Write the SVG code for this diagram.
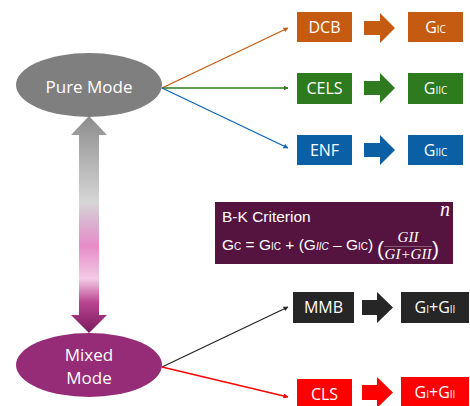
<svg xmlns="http://www.w3.org/2000/svg" width="470" height="406" viewBox="0 0 470 406">
<defs>
<style>
.lbl{font-family:"Open Sans","Noto Sans",sans-serif;fill:#fff;text-anchor:middle}
.b{font-size:16px}
.s{font-size:10px}
.bk{font-family:"Liberation Sans",Arial,sans-serif;fill:#fff}
.m{font-family:"Liberation Serif","Times New Roman",serif;font-style:italic;fill:#fff}
.conn{fill:none;stroke-width:1.3}
</style>
<linearGradient id="gshaft" x1="0" y1="116" x2="0" y2="333" gradientUnits="userSpaceOnUse">
<stop offset="0" stop-color="#8c8c8c"/>
<stop offset="0.15" stop-color="#a8a8a8"/>
<stop offset="0.4" stop-color="#d6d6d6"/>
<stop offset="0.5" stop-color="#dcaed0"/>
<stop offset="0.6" stop-color="#e68cc6"/>
<stop offset="0.75" stop-color="#f4cae6"/>
<stop offset="0.86" stop-color="#b8448e"/>
<stop offset="1" stop-color="#7a1a60"/>
</linearGradient>
<marker id="ao" viewBox="0 0 10 10" refX="9" refY="5" markerWidth="5" markerHeight="5" orient="auto" markerUnits="userSpaceOnUse"><path d="M0,0L10,5L0,10z" fill="#c55a11"/></marker>
<marker id="ag" viewBox="0 0 10 10" refX="9" refY="5" markerWidth="5" markerHeight="5" orient="auto" markerUnits="userSpaceOnUse"><path d="M0,0L10,5L0,10z" fill="#2e7a1e"/></marker>
<marker id="ab" viewBox="0 0 10 10" refX="9" refY="5" markerWidth="5" markerHeight="5" orient="auto" markerUnits="userSpaceOnUse"><path d="M0,0L10,5L0,10z" fill="#0b66b4"/></marker>
<marker id="ak" viewBox="0 0 10 10" refX="9" refY="5" markerWidth="5" markerHeight="5" orient="auto" markerUnits="userSpaceOnUse"><path d="M0,0L10,5L0,10z" fill="#262626"/></marker>
<marker id="ar" viewBox="0 0 10 10" refX="9" refY="5" markerWidth="5" markerHeight="5" orient="auto" markerUnits="userSpaceOnUse"><path d="M0,0L10,5L0,10z" fill="#ff0000"/></marker>
</defs>
<rect width="470" height="406" fill="#fff"/>

<g id="connectors">
<line class="conn" x1="162" y1="88" x2="288" y2="28" stroke="#c55a11" marker-end="url(#ao)"/>
<line class="conn" x1="162" y1="88" x2="288" y2="88" stroke="#2e7a1e" marker-end="url(#ag)"/>
<line class="conn" x1="162" y1="88" x2="288" y2="148" stroke="#0b66b4" marker-end="url(#ab)"/>
<line class="conn" x1="162" y1="367" x2="288" y2="307" stroke="#262626" marker-end="url(#ak)"/>
<line class="conn" x1="162" y1="367" x2="288" y2="397" stroke="#ff0000" marker-end="url(#ar)"/>
<polygon points="89,116 107,135 99,135 99,315 107,315 89,333 71,315 79,315 79,135 71,135" fill="url(#gshaft)"/>
</g>

<g id="pure-mode">
<ellipse cx="89" cy="85" rx="73" ry="32" fill="#7f7f7f"/>
<text class="lbl" x="89" y="93" font-size="17">Pure Mode</text>
</g>

<g id="mixed-mode">
<ellipse cx="89" cy="365" rx="73" ry="32" fill="#962c78"/>
<text class="lbl" x="89" y="361" font-size="17">Mixed</text>
<text class="lbl" x="89" y="384" font-size="17">Mode</text>
</g>

<g id="dcb">
<rect x="297" y="12" width="55" height="30" fill="#c55a11"/>
<text class="lbl b" x="324.5" y="33">DCB</text>
</g>
<g id="dcb-arrow"><polygon points="364,21 380,21 380,13 395,28 380,43 380,35 364,35" fill="#c55a11"/></g>
<g id="dcb-gic">
<rect x="408" y="12" width="55" height="30" fill="#c55a11"/>
<text class="lbl" x="435.5" y="33"><tspan class="b">G</tspan><tspan class="s">IC</tspan></text>
</g>

<g id="cels">
<rect x="297" y="73" width="55" height="31" fill="#2e7a1e"/>
<text class="lbl b" x="324.5" y="94">CELS</text>
</g>
<g id="cels-arrow"><polygon points="364,81 380,81 380,73 395,88 380,103 380,95 364,95" fill="#2e7a1e"/></g>
<g id="cels-giic">
<rect x="408" y="73" width="55" height="31" fill="#2e7a1e"/>
<text class="lbl" x="435.5" y="94"><tspan class="b">G</tspan><tspan class="s">IIC</tspan></text>
</g>

<g id="enf">
<rect x="297" y="135" width="55" height="30" fill="#0b5fa5"/>
<text class="lbl b" x="324.5" y="156">ENF</text>
</g>
<g id="enf-arrow"><polygon points="364,143 380,143 380,135 395,150 380,165 380,157 364,157" fill="#0b5fa5"/></g>
<g id="enf-giic">
<rect x="408" y="135" width="55" height="30" fill="#0b5fa5"/>
<text class="lbl" x="435.5" y="156"><tspan class="b">G</tspan><tspan class="s">IIC</tspan></text>
</g>

<g id="bk-criterion">
<rect x="215" y="202" width="238" height="62" fill="#54143f"/>
<text class="bk" x="222" y="222" font-size="15.5">B-K Criterion</text>
<text class="bk" x="222" y="250" font-size="15.5">G<tspan font-size="10">C</tspan> = G<tspan font-size="10">IC</tspan> + (G<tspan font-size="10" font-style="italic">IIC</tspan> – G<tspan font-size="10">IC</tspan>)</text>
<text class="bk" x="377" y="256" font-size="21">(</text>
<text class="m" x="408" y="242" font-size="15" text-anchor="middle">GII</text>
<line x1="384" y1="246.5" x2="432" y2="246.5" stroke="#fff" stroke-width="0.6" stroke-opacity="0.5"/>
<text class="m" x="408" y="259" font-size="15" text-anchor="middle">GI+GII</text>
<text class="bk" x="432" y="256" font-size="21">)</text>
<text class="m" x="440" y="216" font-size="20">n</text>
</g>

<g id="mmb">
<rect x="293" y="292" width="61" height="31" fill="#262626"/>
<text class="lbl b" x="323.5" y="313">MMB</text>
</g>
<g id="mmb-arrow"><polygon points="362,300 377,300 377,292 393,307.5 377,323 377,315 362,315" fill="#262626"/></g>
<g id="mmb-g">
<rect x="401" y="292" width="68" height="31" fill="#262626"/>
<text class="lbl" x="435" y="313"><tspan class="b">G</tspan><tspan class="s">I</tspan><tspan class="b">+G</tspan><tspan class="s">II</tspan></text>
</g>

<g id="cls">
<rect x="297" y="379" width="55" height="30" fill="#ff0000"/>
<text class="lbl b" x="324.5" y="400">CLS</text>
</g>
<g id="cls-arrow"><polygon points="362,385 377,385 377,377 393,392.5 377,408 377,400 362,400" fill="#ff0000"/></g>
<g id="cls-g">
<rect x="401" y="377" width="68" height="31" fill="#ff0000"/>
<text class="lbl" x="435" y="398"><tspan class="b">G</tspan><tspan class="s">I</tspan><tspan class="b">+G</tspan><tspan class="s">II</tspan></text>
</g>
</svg>
